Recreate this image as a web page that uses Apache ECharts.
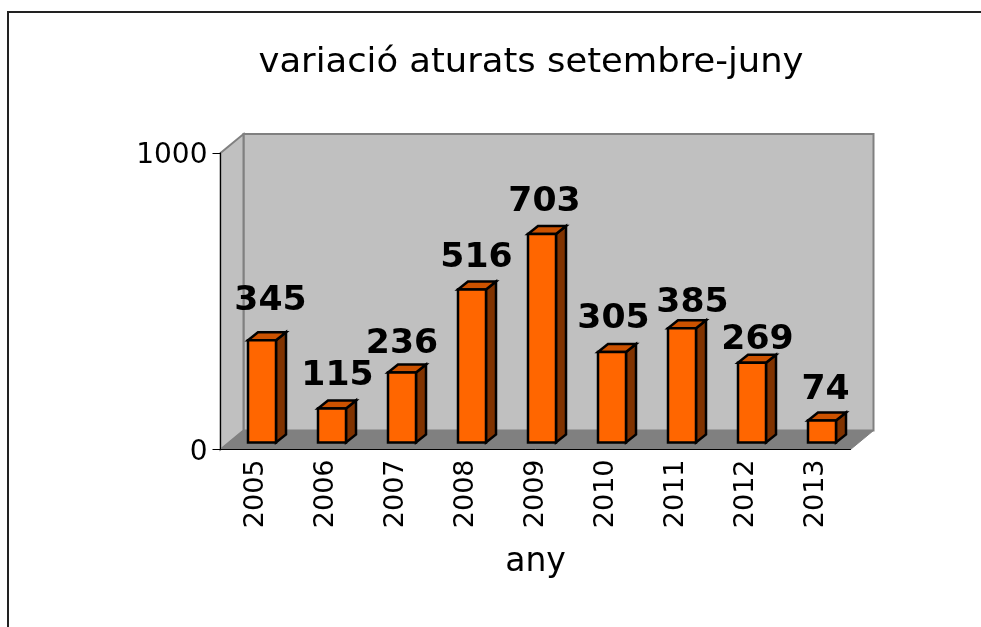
<!DOCTYPE html>
<html>
<head>
<meta charset="utf-8">
<title>variació aturats setembre-juny</title>
<script src="https://cdn.jsdelivr.net/npm/echarts@6/dist/echarts.min.js"></script>
<style>
  html, body { margin: 0; padding: 0; background: #fff; }
  #chart { width: 981px; height: 627px; }
</style>
</head>
<body>
<div id="chart"></div>
<script>
const years = ["2005", "2006", "2007", "2008", "2009", "2010", "2011", "2012", "2013"];
const aturats = [345, 115, 236, 516, 703, 305, 385, 269, 74];
const yTicks = [0, 1000];

// the value labels were placed by hand in the original: [dx from bar centre, dy above bar top]
const labelNudgeX = [8.5, 5.5, 0, 4.5, 2.5, 1.5, 10.5, 5.5, 3.5];
const labelNudgeY = [38.5, 31.5, 28.5, 31.5, 31.5, 32.5, 24.5, 22, 30];

const FONT = "DejaVu Sans";
// fake 3d depth
const WALL_DX = 23, WALL_DY = -19;
const BAR_SHIFT_X = 6.5, BAR_SHIFT_Y = -7;
const BAR_W = 28, BAR_DX = 10, BAR_DY = -8;

const chart = echarts.init(document.getElementById("chart"), null, { renderer: "canvas" });

function renderWalls(params, api) {
  const c = params.coordSys;
  const x0 = c.x, x1 = c.x + c.width, yt = c.y, yb = c.y + c.height;
  const wallBorder = { stroke: "#808080", lineWidth: 2 };
  return {
    type: "group",
    children: [
      // back wall
      { type: "polygon", shape: { points: [[x0 + WALL_DX, yt + WALL_DY], [x1 + WALL_DX, yt + WALL_DY], [x1 + WALL_DX, yb + WALL_DY], [x0 + WALL_DX, yb + WALL_DY]] },
        style: { fill: "#c0c0c0", ...wallBorder } },
      // side wall
      { type: "polygon", shape: { points: [[x0, yt], [x0 + WALL_DX, yt + WALL_DY], [x0 + WALL_DX, yb + WALL_DY], [x0, yb]] },
        style: { fill: "#c0c0c0", ...wallBorder } },
      // floor
      { type: "polygon", shape: { points: [[x0, yb], [x0 + WALL_DX, yb + WALL_DY], [x1 + WALL_DX, yb + WALL_DY], [x1, yb]] },
        style: { fill: "#808080", stroke: "#808080", lineWidth: 1 } },
    ],
  };
}

function renderBar(params, api) {
  const i = api.value(0);
  const top = api.coord([i, api.value(1)]);
  const base = api.coord([i, 0]);
  const l = top[0] - BAR_W / 2 + BAR_SHIFT_X;
  const r = l + BAR_W;
  const t = top[1] + BAR_SHIFT_Y;
  const b = base[1] + BAR_SHIFT_Y;
  const edge = { stroke: "#000", lineWidth: 2.5, lineJoin: "miter" };
  return {
    type: "group",
    children: [
      { type: "polygon", shape: { points: [[r, t], [r + BAR_DX, t + BAR_DY], [r + BAR_DX, b + BAR_DY], [r, b]] },
        style: { fill: "#803300", ...edge } },
      { type: "polygon", shape: { points: [[l, t], [l + BAR_DX, t + BAR_DY], [r + BAR_DX, t + BAR_DY], [r, t]] },
        style: { fill: "#cc5200", ...edge } },
      { type: "rect", shape: { x: l, y: t, width: BAR_W, height: b - t },
        style: { fill: "#ff6600", ...edge } },
      { type: "text", x: top[0] + BAR_SHIFT_X + labelNudgeX[i], y: t - labelNudgeY[i], scaleX: 1.05,
        style: { text: String(api.value(1)), fontFamily: FONT, fontWeight: "bold", fontSize: 33,
          fill: "#000", textAlign: "center", textVerticalAlign: "middle" } },
    ],
  };
}

const option = {
  animation: false,
  backgroundColor: "#fff",
  grid: { left: 220.5, top: 153, width: 630, height: 296.5 },
  xAxis: {
    type: "category",
    data: years,
    boundaryGap: true,
    z: 5,
    name: "any",
    nameLocation: "middle",
    nameGap: 96,
    nameTextStyle: { fontFamily: FONT, fontSize: 33, color: "#000" },
    axisLine: { lineStyle: { color: "#000", width: 1 } },
    axisTick: { alignWithLabel: false, length: 7, lineStyle: { color: "#000" } },
    axisLabel: { rotate: 90, margin: 10, fontFamily: FONT, fontSize: 27, color: "#000", interval: 0 },
    splitLine: { show: false },
  },
  yAxis: {
    type: "value",
    min: yTicks[0],
    max: yTicks[1],
    interval: yTicks[1] - yTicks[0],
    z: 5,
    axisLine: { show: true, lineStyle: { color: "#000", width: 1 } },
    axisTick: { show: true, length: 8, lineStyle: { color: "#000" } },
    axisLabel: { margin: 13, verticalAlign: "top", lineHeight: 6, fontFamily: FONT, fontSize: 28, color: "#000", formatter: (v) => String(v) },
    splitLine: { show: false },
  },
  series: [
    { type: "custom", z: 1, silent: true, clip: false, renderItem: renderWalls, data: [[0, 0]] },
    { type: "custom", z: 6, clip: false, renderItem: renderBar, encode: { x: 0, y: 1 },
      data: aturats.map((v, i) => [i, v]) },
  ],
  graphic: [
    // chart area border, runs off the right and bottom of the picture
    { type: "polyline", z: 0, shape: { points: [[8, 627], [8, 12], [981, 12]] },
      style: { fill: null, stroke: "#222", lineWidth: 2 } },
    // title is a little wider than the font here, so stretch it
    { type: "text", x: 531, y: 63, scaleX: 1.04, z: 10,
      style: { text: "variació aturats setembre-juny", fontFamily: FONT, fontSize: 34, fill: "#000",
        textAlign: "center", textVerticalAlign: "middle" } },
  ],
};

chart.setOption(option);
</script>
</body>
</html>
